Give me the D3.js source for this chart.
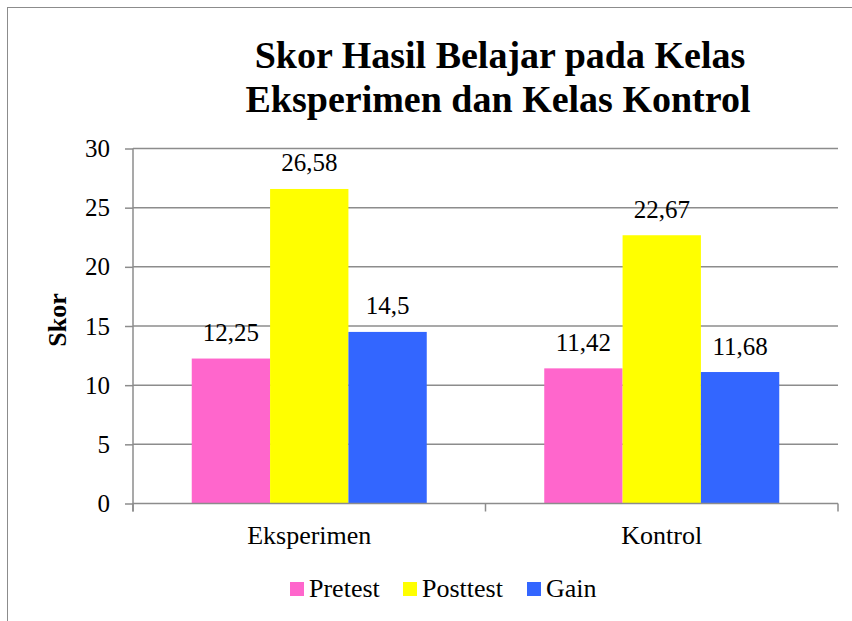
<!DOCTYPE html>
<html>
  <head>
    <meta charset="utf-8">
    <script src="https://d3js.org/d3.v7.min.js"></script>
    <style>
      body { margin: 0; background: #fff; }
      svg text { font-family: 'Liberation Serif', 'Times New Roman', Times, serif !important; fill: #000; }
    </style>
  </head>
  <body>
    <script type="text/javascript">
      // data
      var categories = ["Eksperimen", "Kontrol"];
      var series = ["Pretest", "Posttest", "Gain"];
      var colors = ["#ff66cc", "#ffff00", "#3366ff"];
      // bar heights per category (Pretest, Posttest, Gain)
      var eksperimen = [12.25, 26.58, 14.5];
      var kontrol = [11.42, 22.67, 11.11];
      // data labels as printed on the chart
      var eksperimenLabels = ["12,25", "26,58", "14,5"];
      var kontrolLabels = ["11,42", "22,67", "11,68"];
      var yTicks = [0, 5, 10, 15, 20, 25, 30];

      var width = 852, height = 621;
      var svg = d3.select("body").append("svg")
        .attr("width", width).attr("height", height);

      // outer chart frame (right/bottom are cut off in the original)
      svg.append("rect")
        .attr("x", 7.5).attr("y", 7.5)
        .attr("width", 1000).attr("height", 1000)
        .attr("fill", "none").attr("stroke", "#8c8c8c").attr("stroke-width", 1);

      var plotL = 133, plotR = 838, plotT = 148.5, plotB = 503.5;
      var grey = "#8c8c8c";

      var y = d3.scaleLinear().domain([0, 30]).range([plotB, plotT]);
      var x0 = d3.scaleBand().domain(categories).range([plotL, plotR]);
      // Excel gap width 150% -> 3 bars take 3/(3+1.5) of each band
      var inner = x0.bandwidth() * 3 / 4.5;
      var x1 = d3.scaleBand().domain(series)
        .range([(x0.bandwidth() - inner) / 2, (x0.bandwidth() + inner) / 2]);

      // gridlines
      svg.append("g").selectAll("line").data(yTicks.slice(1)).enter().append("line")
        .attr("x1", plotL).attr("x2", plotR)
        .attr("y1", function (d) { return y(d); }).attr("y2", function (d) { return y(d); })
        .attr("stroke", grey).attr("stroke-width", 1.5);

      var rows = [
        { cat: "Eksperimen", vals: eksperimen, labels: eksperimenLabels },
        { cat: "Kontrol", vals: kontrol, labels: kontrolLabels }
      ];

      var groups = svg.append("g").selectAll("g").data(rows).enter().append("g")
        .attr("transform", function (d) { return "translate(" + x0(d.cat) + ",0)"; });

      groups.selectAll("rect")
        .data(function (d) { return d.vals.map(function (v, i) { return { s: series[i], v: v, c: colors[i] }; }); })
        .enter().append("rect")
        .attr("x", function (d) { return x1(d.s); })
        .attr("width", x1.bandwidth())
        .attr("y", function (d) { return y(d.v); })
        .attr("height", function (d) { return plotB - y(d.v); })
        .attr("fill", function (d) { return d.c; });

      groups.selectAll("text")
        .data(function (d) { return d.vals.map(function (v, i) { return { s: series[i], v: v, t: d.labels[i] }; }); })
        .enter().append("text")
        .attr("x", function (d) { return x1(d.s) + x1.bandwidth() / 2; })
        .attr("y", function (d) { return y(d.v) - 17.5; })
        .attr("text-anchor", "middle")
        .style("font-size", "25px")
        .text(function (d) { return d.t; });

      // y axis
      var yAxis = svg.append("g")
        .attr("transform", "translate(" + plotL + ",0)")
        .call(d3.axisLeft(y).tickValues(yTicks).tickSize(8).tickPadding(15));
      yAxis.attr("font-family", null);
      yAxis.select(".domain").attr("stroke", grey).attr("stroke-width", 1.5)
        .attr("d", "M0," + plotT + "V" + (plotB + 8));
      yAxis.selectAll(".tick line").attr("stroke", grey).attr("stroke-width", 1.5);
      yAxis.selectAll(".tick text").style("font-size", "25px").attr("fill", "#000");

      // x axis
      var xAxis = svg.append("g")
        .attr("transform", "translate(0," + plotB + ")")
        .call(d3.axisBottom(x0).tickSize(0).tickPadding(0));
      xAxis.attr("font-family", null);
      xAxis.select(".domain").attr("stroke", grey).attr("stroke-width", 1.5)
        .attr("d", "M" + plotL + ",0H" + plotR);
      xAxis.selectAll(".tick text")
        .attr("dy", null).attr("y", 40.5)
        .style("font-size", "26px").attr("fill", "#000");
      // category separator ticks
      svg.append("g").selectAll("line").data(x0.domain().concat(["end"])).enter().append("line")
        .attr("x1", function (d) { return d === "end" ? plotR : x0(d); })
        .attr("x2", function (d) { return d === "end" ? plotR : x0(d); })
        .attr("y1", plotB).attr("y2", plotB + 8)
        .attr("stroke", grey).attr("stroke-width", 1.5);

      // y axis title
      svg.append("text")
        .attr("transform", "translate(66,320) rotate(-90)")
        .attr("text-anchor", "middle")
        .style("font-size", "26px").style("font-weight", "bold")
        .text("Skor");

      // title
      var title = svg.append("text").attr("text-anchor", "middle")
        .style("font-size", "38px").style("font-weight", "bold");
      title.append("tspan").attr("x", 500).attr("y", 68).text("Skor Hasil Belajar pada Kelas");
      title.append("tspan").attr("x", 498).attr("y", 112).text("Eksperimen dan Kelas Kontrol");

      // legend
      var legendX = [290, 403, 527];
      var legend = svg.append("g").selectAll("g").data(series).enter().append("g")
        .attr("transform", function (d, i) { return "translate(" + legendX[i] + ",582)"; });
      legend.append("rect").attr("width", 14).attr("height", 14)
        .attr("fill", function (d, i) { return colors[i]; });
      legend.append("text").attr("x", 19).attr("y", 14.5)
        .style("font-size", "26px")
        .text(function (d) { return d; });
    </script>
  </body>
</html>
